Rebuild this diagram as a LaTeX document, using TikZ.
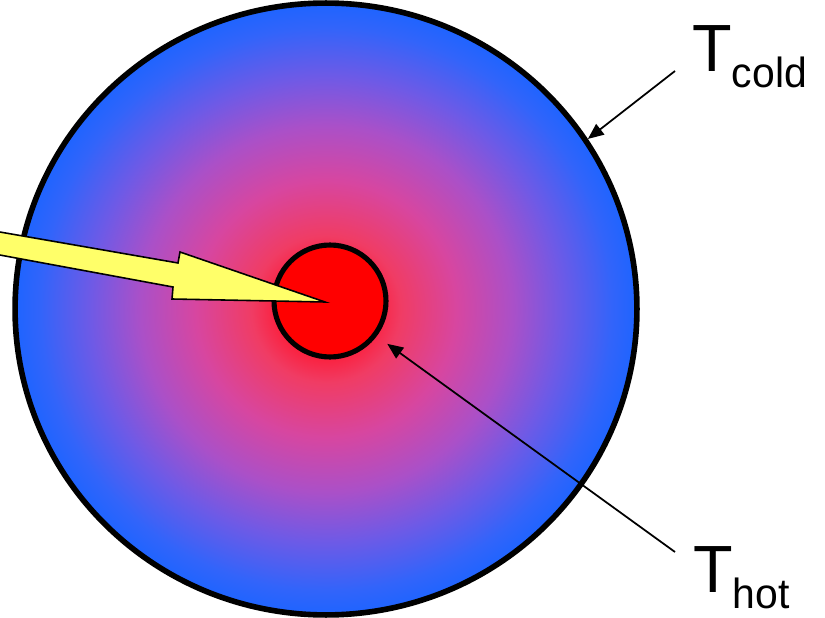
\documentclass[tikz,border=0pt]{standalone}
\usepackage{fontspec}
\setmainfont{Liberation Sans}
\usetikzlibrary{shapes.geometric, arrows.meta}
\definecolor{coolblue}{RGB}{30,100,255}
\definecolor{midblue}{RGB}{50,100,250}
\definecolor{violetmid}{RGB}{110,90,230}
\definecolor{purplemid}{RGB}{170,80,200}
\definecolor{pinkmid}{RGB}{215,70,160}
\definecolor{rosemid}{RGB}{240,60,100}
\definecolor{hotred}{RGB}{255,20,45}
\definecolor{corered}{RGB}{255,0,0}
\definecolor{beamyellow}{RGB}{255,255,105}
% the disc edge sits at 25bp of the shading
\pgfdeclareradialshading{heatglow}{\pgfpoint{0bp}{0bp}}{%
  color(0bp)=(hotred); color(3bp)=(hotred); color(6bp)=(rosemid);
  color(10.5bp)=(pinkmid); color(15bp)=(purplemid); color(19bp)=(violetmid);
  color(23bp)=(midblue); color(25bp)=(coolblue); color(50bp)=(coolblue)}
\newcommand{\Tsub}[1]{\scalebox{0.97}[1]{{\fontsize{38}{38}\selectfont T}%
  \raisebox{-0.32cm}{\fontsize{24}{24}\selectfont #1}}}
\tikzset{
    bigdisc/.style={ellipse, draw=black, line width=3.2pt, shading=heatglow,
      minimum width=12.44cm, minimum height=12.24cm, inner sep=0pt},
    coredisc/.style={circle, draw=black, line width=2.9pt, fill=corered,
      minimum size=2.24cm, inner sep=0pt},
    beam/.style={draw=black, line width=0.9pt, fill=beamyellow, line join=miter},
    pointer/.style={draw=black, line width=1pt, -{Triangle[length=9pt, width=7.5pt]}},
    templabel/.style={inner sep=0pt, anchor=base west}
}

\begin{document}
\begin{tikzpicture}[x=0.02cm, y=-0.02cm]
    \useasboundingbox (0,0) rectangle (825,618);
    \node[bigdisc] (outer) at (326,309) {};
    \node[coredisc] (core) at (330,301) {};
    % yellow beam into the core
    \begin{scope}
        \clip (0,0) rectangle (825,618);
        \draw[beam] (-30,226.8) -- (178,263) -- (180,252) -- (325,302)
            -- (172,299) -- (173,287) -- (-30,249.5) -- cycle;
    \end{scope}
    \node[templabel] (tcold) at (692,72) {\Tsub{cold}};
    \node[templabel] (thot) at (693,592) {\Tsub{hot}};
    \coordinate (coldtail) at (675,71);
    \coordinate (hottail) at (675,552);
    \draw[pointer] (coldtail) -- (outer.33);
    \draw[pointer, shorten >=0.26cm] (hottail) -- (core.-37);
\end{tikzpicture}
\end{document}
